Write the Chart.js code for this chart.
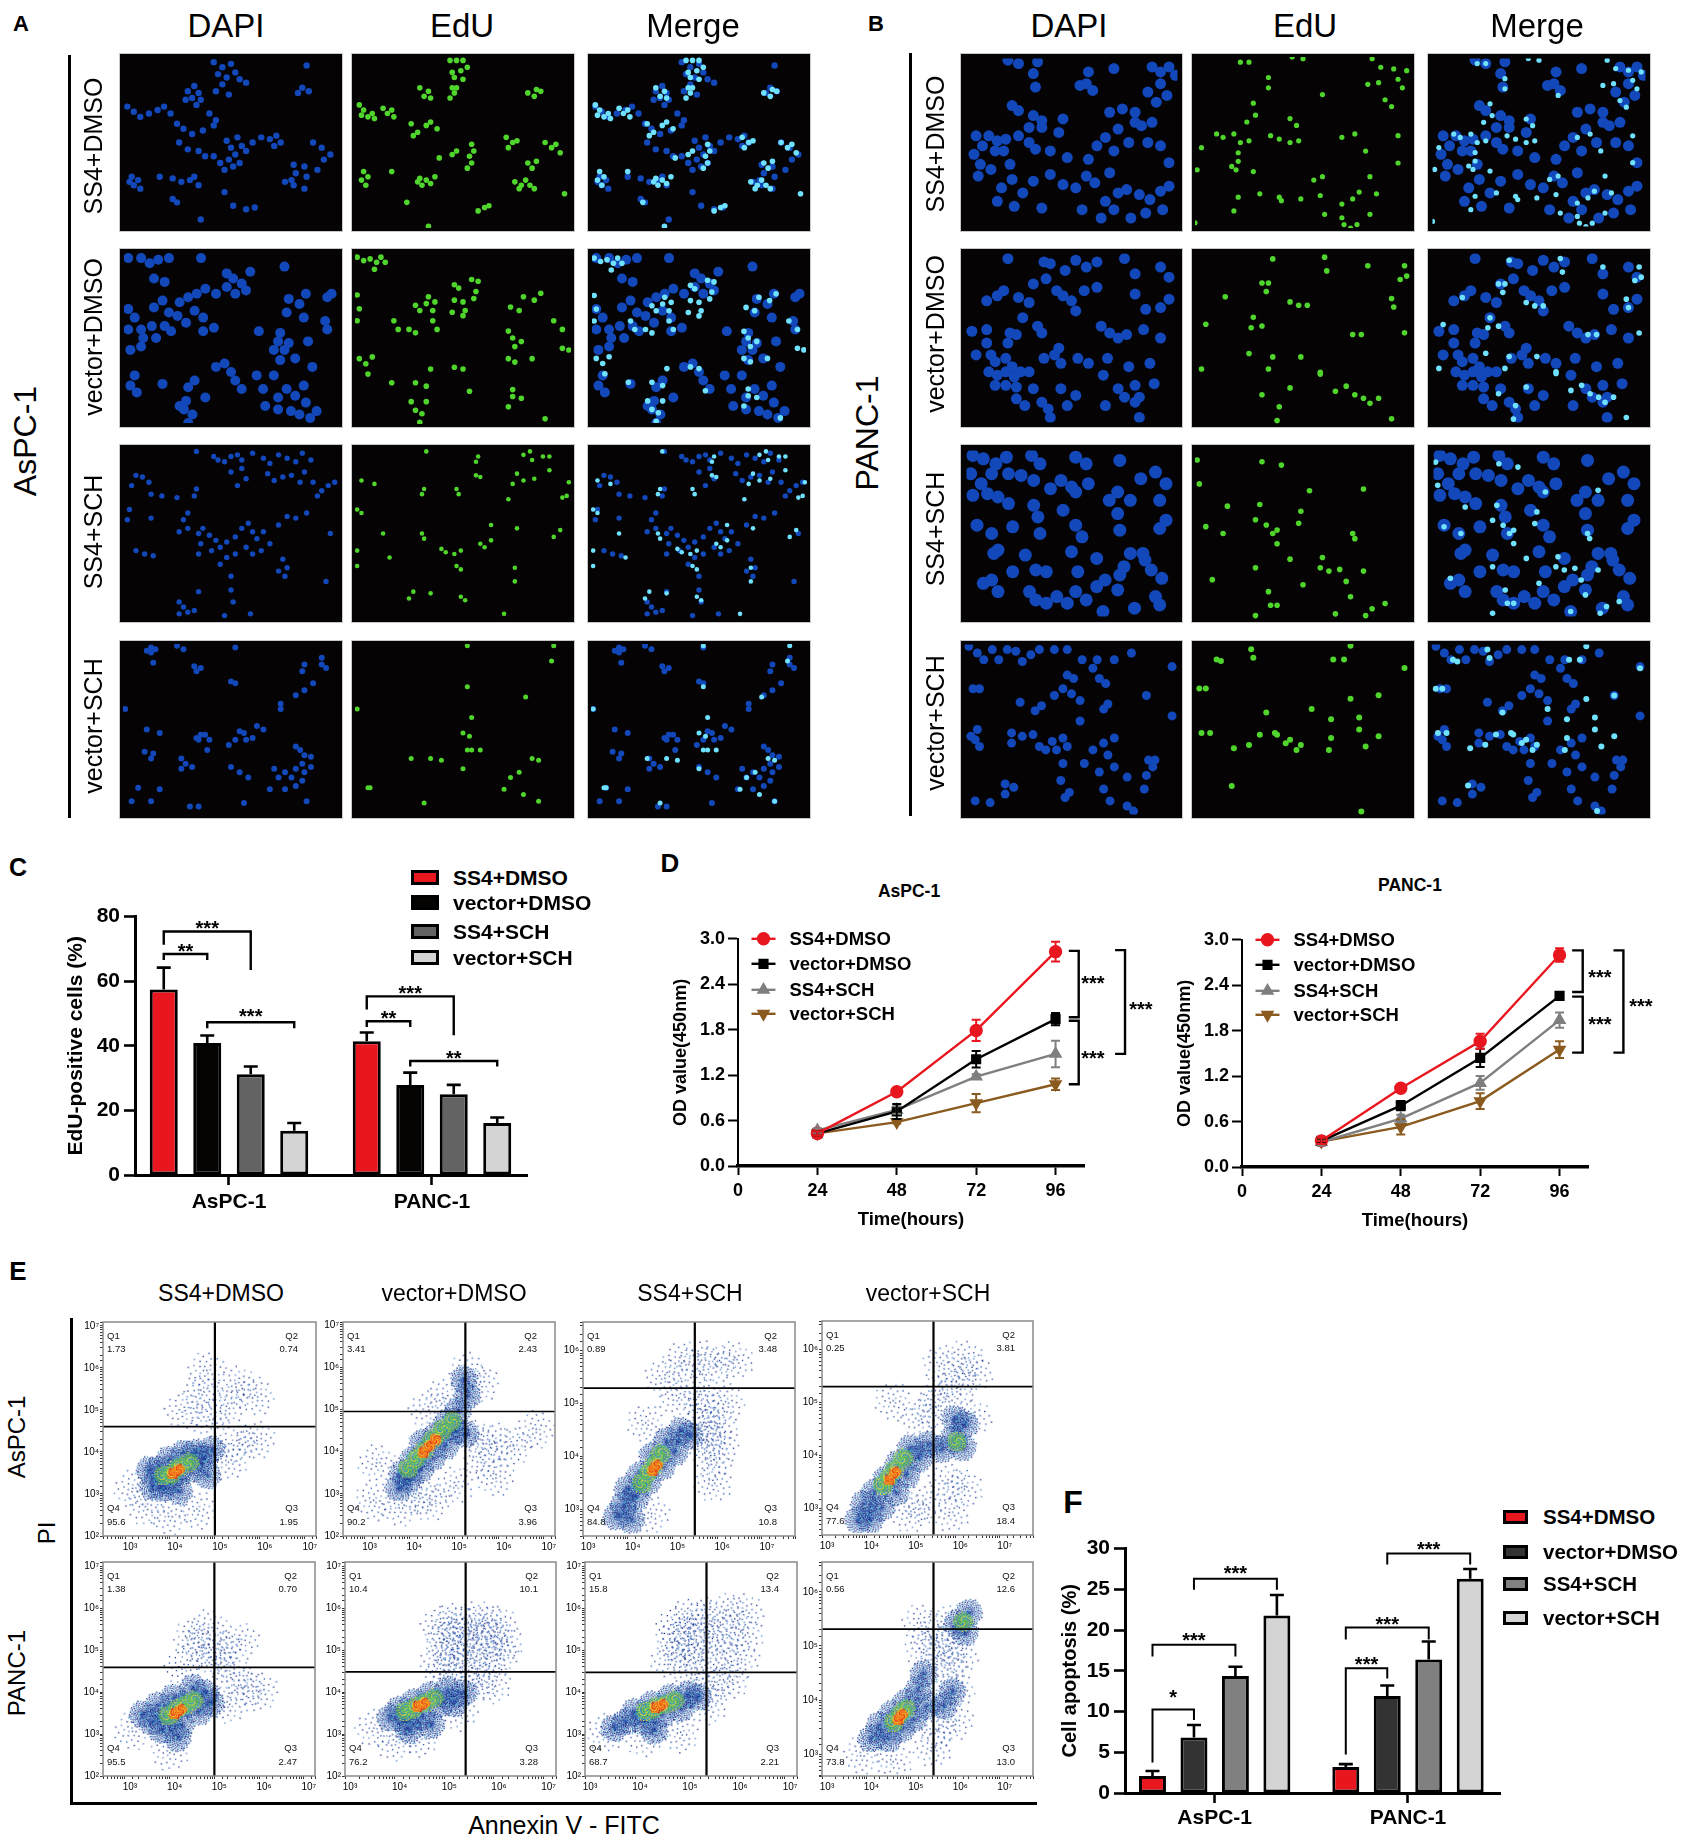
<!DOCTYPE html>
<html>
<head>
<meta charset="utf-8">
<title>Figure</title>
<script src="https://cdn.jsdelivr.net/npm/chart.js@4"></script>
<style>
html, body { margin: 0; background: #fff; }
#page { position: relative; width: 1687px; height: 1836px; overflow: hidden; font-family: "Liberation Sans", Arial, sans-serif; color: #000; }
#page canvas { position: absolute; }
.t { position: absolute; white-space: nowrap; transform: translate(-50%, -50%); line-height: 1; }
.r { transform: translate(-50%, -50%) rotate(-90deg); }
.l { transform: translate(0, -50%); }
.rule { position: absolute; background: #000; }
.sw { position: absolute; box-sizing: border-box; border: 3px solid #000; }
</style>
</head>
<body>
<div id="page"></div>
<script>
// ---------- data ----------
const groups = ['AsPC-1', 'PANC-1'];
const treatments = ['SS4+DMSO', 'vector+DMSO', 'SS4+SCH', 'vector+SCH'];

// panel C, EdU-positive cells (%)
const eduMeans = [[57.4, 41.4], [40.9, 27.9], [31.2, 25.0], [13.7, 16.1]];
const eduTops = [[64.2, 44.1], [43.2, 31.7], [33.6, 27.9], [16.1, 17.8]];
// group, bar a, bar b, line, left end, right end, label value, label
const eduBrackets = [
   [0, 0, 2, 75.4, 71.3, 63.5, 77.9, '***'],
   [0, 0, 1, 68.4, 66.6, 66.6, 70.7, '**'],
   [0, 1, 3, 47.3, 45.4, 45.4, 50.5, '***'],
   [1, 0, 2, 55.3, 51.2, 43.3, 57.6, '***'],
   [1, 0, 1, 47.6, 45.8, 45.8, 50.1, '**'],
   [1, 1, 3, 35.3, 33.6, 33.6, 37.7, '**']
];

// panel D, OD value
const hours = [24, 48, 72, 96];
const odAsp = [[0.43, 0.98, 1.79, 2.83], [0.43, 0.72, 1.41, 1.94], [0.47, 0.74, 1.18, 1.48], [0.43, 0.58, 0.83, 1.08]];
const odAspErr = [[0.03, 0.02, 0.14, 0.13], [0.03, 0.1, 0.11, 0.08], [0.03, 0.05, 0.03, 0.175], [0.03, 0.02, 0.12, 0.075]];
const odPanc = [[0.345, 1.04, 1.66, 2.8], [0.345, 0.81, 1.44, 2.26], [0.33, 0.64, 1.11, 1.94], [0.335, 0.53, 0.87, 1.55]];
const odPancErr = [[0.04, 0.05, 0.1, 0.09], [0.03, 0.06, 0.12, 0.05], [0.05, 0.05, 0.09, 0.1], [0.03, 0.1, 0.105, 0.11]];
// inner hour, outer hour, top, bottom, label hour, label value
const odAspBrackets = [[100, 103, 2.84, 1.965, 107.3, 2.47], [100, 103, 1.917, 1.08, 107.3, 1.48], [114, 117, 2.85, 1.48, 121.8, 2.13]];
const odPancBrackets = [[99.8, 103, 2.86, 2.31, 108.2, 2.57], [99.8, 103, 2.25, 1.51, 108.2, 1.94], [112.3, 115.3, 2.86, 1.51, 120.6, 2.18]];

// panel F, cell apoptosis (%)
const apoMeans = [[2.1, 3.2], [6.8, 11.9], [14.35, 16.4], [21.8, 26.3]];
const apoTops = [[2.7, 3.55], [8.35, 13.2], [15.5, 18.6], [24.3, 27.5]];
const apoBrackets = [
   [0, 0, 1, 10.25, 3.75, 8.96, 12.3, '*'],
   [0, 0, 2, 18.2, 16.75, 16.75, 19.26, '***'],
   [0, 1, 3, 26.3, 24.95, 24.95, 27.57, '***'],
   [1, 0, 1, 15.3, 4.72, 14.05, 16.43, '***'],
   [1, 0, 2, 20.3, 18.85, 18.85, 21.3, '***'],
   [1, 1, 3, 29.4, 28.06, 28.06, 30.5, '***']
];

// panel E, gate values and axis limits as powers of ten (rows: AsPC-1, PANC-1)
const flowQuadrants = [
   [['1.73', '0.74', '1.95', '95.6'], ['3.41', '2.43', '3.96', '90.2'], ['0.89', '3.48', '10.8', '84.8'], ['0.25', '3.81', '18.4', '77.6']],
   [['1.38', '0.70', '2.47', '95.5'], ['10.4', '10.1', '3.28', '76.2'], ['15.8', '13.4', '2.21', '68.7'], ['0.56', '12.6', '13.0', '73.8']]
];
const flowGates = [
   [[5.0, 4.6], [5.25, 4.95], [5.5, 5.29], [5.51, 5.3]],
   [[5.0, 4.59], [5.43, 4.48], [5.43, 4.47], [5.51, 5.31]]
];
const flowLimits = [
   [[2.51, 7.25, 2, 7.09], [2.52, 7.25, 2, 7.07], [3, 7.74, 2.5, 6.54], [3, 7.75, 2.5, 6.54]],
   [[2.51, 7.25, 2, 7.1], [3, 7.25, 2, 7.1], [3, 7.24, 2, 7.1], [3, 7.75, 2.6, 6.55]]
];

// event clouds, in powers of ten
const asp1Sparse = [[4.3,5.0],[4.7,5.4],[4.9,4.8],[5.3,5.1],[5.5,5.6],[5.9,5.3],[4.8,5.9],[5.5,4.2],[5.9,4.3],[5.3,3.8],[4.0,2.5],[3.5,2.7],[3.2,3.1],[4.6,2.6]];
const asp1Cloud = [[3.6,3.2],[3.75,3.6],[3.85,3.15],[4.0,3.3],[4.0,3.8],[4.2,3.5],[4.3,3.95],[4.45,3.6],[4.55,4.0],[4.75,3.85],[4.85,3.45],[4.95,4.05],[3.55,3.55],[4.2,3.05]];
const asp1Mid = [[3.85,3.45],[4.05,3.5],[4.2,3.65],[4.45,3.75]];
const asp1Core = [[4.05,3.5],[4.2,3.6]];
const asp2Sparse = [[4.4,5.0],[4.8,5.3],[5.3,5.9],[5.6,5.6],[5.5,4.3],[5.9,4.2],[6.3,4.1],[5.6,3.8],[5.9,3.4],[4.2,3.0],[3.8,2.7],[4.5,2.8],[3.3,3.7],[3.2,2.8],[6.8,4.5],[5.0,3.2]];
const asp2Cloud = [[3.75,3.15],[3.85,3.5],[4.0,3.35],[4.1,3.8],[4.25,3.55],[4.3,4.2],[4.5,3.85],[4.6,4.4],[4.8,4.15],[4.85,4.7],[5.05,4.5],[5.1,4.95],[5.3,5.3],[5.25,4.4],[5.2,5.7]];
const asp2Mid = [[3.95,3.6],[4.15,3.85],[4.35,4.05],[4.55,4.3],[4.75,4.5],[4.95,4.7]];
const asp2Core = [[4.3,4.0],[4.45,4.15],[4.6,4.3]];
const asp3Sparse = [[5.7,4.9],[6.0,4.6],[5.75,4.3],[6.1,4.2],[5.9,3.9],[6.2,5.0],[5.6,5.2],[5.1,5.1],[4.8,5.5],[5.2,5.8],[5.6,5.85],[6.0,5.75],[6.4,5.8],[4.4,4.6],[4.5,2.9],[5.9,3.5],[5.7,4.6]];
const asp3Cloud = [[3.9,3.1],[4.0,3.4],[4.2,3.25],[4.3,3.65],[4.45,3.5],[4.55,4.0],[4.75,3.8],[4.85,4.3],[5.05,4.1],[5.2,4.5],[5.4,4.4],[4.1,2.8],[3.75,2.85]];
const asp3Mid = [[4.3,3.5],[4.45,3.7],[4.6,3.85],[4.75,4.05]];
const asp3Core = [[4.55,3.75],[4.65,3.85]];
const asp4Sparse = [[5.2,4.7],[5.5,4.9],[5.7,5.2],[6.1,5.3],[6.4,4.7],[5.7,5.7],[6.2,5.8],[6.4,5.55],[5.8,3.5],[6.2,3.4],[5.3,3.1],[5.0,2.9],[5.9,2.9],[4.6,5.0]];
const asp4Cloud = [[3.8,2.8],[3.95,3.1],[4.1,2.8],[4.2,3.3],[4.35,3.0],[4.45,3.55],[4.65,3.3],[4.7,3.85],[4.9,3.65],[5.0,4.15],[5.2,3.95],[5.4,4.2],[5.7,4.1],[5.95,4.3],[6.15,4.15],[6.2,4.6],[6.0,4.7]];
const asp4Mid = [[4.35,3.45],[4.5,3.6],[4.65,3.75],[4.85,3.95],[6.05,4.25]];
const asp4Core = [[4.5,3.55],[4.65,3.7]];
const panc1Sparse = [[4.3,4.6],[4.7,5.1],[4.5,5.3],[5.2,5.0],[5.4,4.4],[5.7,4.1],[6.0,4.0],[5.3,3.7],[5.0,4.8],[4.0,2.6],[3.2,3.1],[5.6,5.2],[4.9,5.5]];
const panc1Cloud = [[3.6,3.3],[3.75,3.7],[3.85,3.1],[4.0,3.4],[4.1,3.85],[4.25,3.2],[4.35,3.7],[4.5,4.1],[4.65,3.55],[4.8,4.0],[4.95,3.75],[4.2,2.9],[3.4,3.45]];
const panc1Mid = [[3.95,3.45],[4.15,3.6],[4.35,3.7],[4.55,3.8]];
const panc1Core = [[4.1,3.5],[4.25,3.6]];
const panc2Sparse = [[4.9,5.6],[5.2,5.7],[5.5,5.7],[5.8,5.7],[6.1,5.6],[5.0,5.2],[5.3,5.3],[5.6,5.3],[5.9,5.3],[6.2,5.2],[4.9,4.8],[5.2,4.9],[5.5,4.85],[5.8,4.8],[6.1,4.85],[5.0,4.45],[5.4,4.4],[5.7,4.3],[6.0,4.2],[5.3,3.5],[3.6,3.1],[4.5,2.9],[4.0,2.8]];
const panc2Cloud = [[3.9,3.4],[4.1,3.6],[4.25,3.3],[4.4,3.75],[4.55,3.4],[4.7,3.9],[4.9,3.7],[5.05,4.05],[5.2,3.75],[5.4,4.0],[4.3,3.1],[4.75,3.2]];
const panc2Mid = [[4.2,3.55],[4.4,3.65],[4.6,3.75],[4.8,3.85]];
const panc2Core = [[4.45,3.68],[4.6,3.75]];
const panc3Sparse = [[4.8,5.6],[5.1,5.8],[5.4,5.8],[5.8,5.9],[6.2,5.9],[4.8,5.2],[5.1,5.3],[5.4,5.35],[5.8,5.4],[6.2,5.4],[4.7,4.8],[5.0,4.85],[5.3,4.8],[5.7,4.9],[6.1,4.75],[5.2,4.35],[5.55,4.2],[5.9,4.3],[5.5,3.7],[4.2,2.9],[3.4,3.0],[4.9,3.0]];
const panc3Cloud = [[3.8,3.3],[4.0,3.55],[4.2,3.3],[4.35,3.7],[4.55,3.45],[4.7,3.85],[4.9,3.6],[5.05,3.95],[5.25,3.9],[4.4,3.1],[3.6,3.15]];
const panc3Mid = [[4.2,3.55],[4.4,3.65],[4.6,3.72],[4.8,3.8]];
const panc3Core = [[4.4,3.65],[4.55,3.72]];
const panc4Sparse = [[5.85,4.6],[6.0,4.2],[5.6,5.0],[5.9,5.0],[6.1,4.8],[5.3,4.9],[5.2,5.4],[5.7,5.4],[5.6,3.5],[4.6,2.9],[3.9,3.0],[6.0,3.6],[5.5,3.1]];
const panc4Cloud = [[4.1,3.3],[4.3,3.55],[4.5,3.3],[4.6,3.75],[4.8,3.45],[4.9,3.95],[5.05,3.65],[5.15,4.2],[5.35,3.9],[5.3,4.5],[5.75,3.9],[5.95,4.15],[6.05,5.4],[6.3,5.6],[6.2,5.25]];
const panc4Mid = [[4.6,3.6],[4.75,3.75],[4.9,3.85],[6.2,5.45]];
const panc4Core = [[4.7,3.65],[4.8,3.75]];

// panels A and B, nuclei positions in percent of each field
const aDapi1 = [[42,3],[46,6],[50,4],[44,10],[48,12],[52,9],[46,16],[43,20],[49,22],[54,13],[57,15],[33,17],[30,20],[35,21],[32,24],[36,25],[29,25],[34,28],[85,5],[83,18],[81,21],[86,20],[2,29],[5,32],[8,35],[12,33],[16,31],[19,29],[22,33],[40,33],[43,37],[25,39],[28,42],[32,45],[37,43],[42,40],[26,50],[30,54],[35,55],[38,58],[48,49],[50,53],[53,47],[55,52],[52,57],[49,60],[45,62],[42,58],[57,55],[54,62],[51,64],[47,66],[60,50],[64,47],[68,48],[71,46],[73,50],[70,52],[88,50],[92,53],[79,63],[80,68],[84,64],[85,70],[78,72],[93,60],[96,57],[90,66],[4,70],[7,72],[5,75],[8,77],[3,73],[17,70],[23,71],[27,73],[31,72],[33,70],[35,75],[75,73],[79,75],[84,77],[23,83],[25,85],[47,79],[51,87],[57,89],[61,88],[36,95]];
const aEdu1 = [[44,2],[47,2],[50,2],[45,9],[49,8],[52,6],[46,12],[50,13],[47,18],[30,18],[34,20],[32,23],[35,24],[45,18],[46,21],[44,24],[80,21],[84,19],[86,20],[83,23],[2,28],[4,31],[6,35],[3,34],[8,33],[9,36],[13,30],[15,33],[17,31],[18,35],[26,39],[29,44],[33,40],[35,38],[27,46],[38,42],[47,55],[45,57],[54,51],[55,55],[53,58],[54,62],[52,65],[39,59],[70,47],[73,50],[71,53],[75,49],[88,50],[91,53],[95,56],[93,51],[80,62],[82,65],[84,61],[4,67],[6,70],[3,72],[5,75],[17,67],[30,71],[33,72],[35,74],[31,75],[29,73],[37,70],[74,73],[77,75],[79,72],[81,75],[76,77],[83,77],[97,80],[24,85],[57,90],[60,88],[62,87],[34,99]];
const aDapi2 = [[2,3],[8,3],[12,6],[16,4],[14,15],[21,3],[36,3],[19,17],[48,12],[51,15],[55,18],[48,20],[52,24],[57,22],[59,11],[43,24],[34,24],[38,21],[30,26],[26,29],[18,28],[14,32],[21,35],[25,37],[33,34],[37,38],[29,41],[2,33],[5,38],[2,45],[8,45],[13,43],[9,50],[3,57],[8,55],[15,50],[19,43],[22,46],[37,46],[42,44],[75,8],[77,27],[82,30],[85,24],[76,35],[84,38],[95,26],[97,24],[94,40],[95,45],[63,46],[73,47],[72,52],[75,57],[77,53],[80,62],[73,63],[70,57],[86,52],[5,72],[3,78],[6,82],[18,77],[30,79],[33,75],[29,87],[26,90],[38,85],[43,67],[47,65],[50,70],[52,75],[55,80],[62,72],[65,80],[70,72],[72,85],[76,80],[80,84],[84,78],[66,90],[72,92],[78,93],[85,88],[82,95],[87,97],[90,93],[28,92],[32,95],[30,100],[88,67]];
const aEdu2 = [[1,3],[4,5],[7,4],[10,6],[12,3],[14,6],[9,10],[34,26],[33,30],[30,34],[28,31],[36,34],[37,29],[46,19],[48,21],[46,28],[50,29],[54,16],[57,17],[56,23],[55,27],[1,25],[2,33],[1,40],[18,40],[20,45],[25,45],[28,47],[36,40],[38,45],[45,35],[50,37],[51,34],[78,26],[83,28],[86,24],[72,32],[76,34],[92,40],[96,45],[71,46],[73,50],[74,55],[77,52],[71,62],[74,64],[82,62],[2,62],[5,65],[8,61],[6,71],[17,76],[35,68],[46,67],[50,68],[28,76],[33,78],[53,81],[73,80],[71,90],[73,84],[77,85],[26,87],[28,92],[31,94],[33,87],[30,99],[88,97],[96,56],[99,57]];
const aDapi3 = [[34,2],[42,5],[44,7],[47,8],[50,5],[53,4],[55,7],[60,3],[65,6],[68,9],[72,4],[76,6],[80,8],[83,3],[87,7],[50,14],[55,12],[57,18],[53,22],[67,15],[70,19],[74,17],[78,16],[82,20],[84,14],[88,20],[92,25],[95,22],[98,20],[90,28],[6,16],[9,17],[12,20],[13,27],[4,22],[18,28],[25,29],[34,24],[33,28],[3,36],[2,42],[13,41],[30,38],[28,42],[76,40],[80,41],[85,38],[72,45],[26,49],[30,47],[35,50],[37,47],[40,51],[43,54],[45,58],[48,55],[52,52],[55,47],[58,44],[60,49],[62,53],[65,49],[68,56],[64,60],[60,62],[57,58],[52,62],[48,64],[45,68],[36,56],[35,62],[41,60],[96,50],[6,60],[10,62],[14,63],[74,65],[76,70],[72,72],[75,75],[50,75],[26,90],[28,93],[30,96],[33,95],[26,97],[35,84],[50,83],[51,90],[47,98],[59,97],[94,78]];
const aEdu3 = [[33,2],[57,5],[56,8],[56,16],[58,17],[3,19],[9,21],[32,24],[31,27],[47,24],[48,27],[78,4],[81,2],[82,7],[87,5],[90,5],[75,15],[73,21],[78,19],[83,18],[90,13],[99,20],[98,28],[96,29],[71,30],[1,36],[3,38],[63,45],[75,47],[95,48],[92,52],[13,50],[31,50],[32,53],[1,60],[16,64],[40,59],[42,61],[49,60],[46,62],[58,56],[60,58],[63,54],[47,69],[49,71],[1,69],[27,84],[35,85],[25,88],[49,87],[51,89],[74,70],[74,78],[69,97]];
const aDapi4 = [[13,2],[15,3],[11,4],[13,5],[25,1],[28,3],[52,2],[14,11],[33,13],[34,16],[36,14],[50,22],[52,23],[84,12],[83,16],[92,8],[92,12],[94,14],[88,23],[84,27],[80,30],[73,35],[1,38],[73,38],[11,50],[17,52],[35,56],[34,55],[38,53],[40,56],[36,53],[49,59],[52,56],[56,52],[60,55],[62,48],[65,50],[54,51],[57,56],[80,60],[82,62],[84,65],[87,66],[83,70],[80,73],[84,75],[87,72],[10,63],[14,64],[13,67],[27,67],[29,70],[27,73],[32,72],[39,62],[50,72],[54,75],[58,78],[70,73],[72,78],[75,75],[78,78],[80,83],[83,80],[75,85],[68,85],[17,85],[7,84],[13,92],[4,92],[31,95],[35,95],[56,93],[85,92]];
const aEdu4 = [[52,1],[92,1],[91,10],[52,25],[79,31],[1,38],[54,43],[50,52],[53,54],[54,62],[52,62],[58,62],[26,67],[35,67],[40,68],[50,73],[82,67],[85,68],[72,78],[76,75],[69,85],[32,93],[7,84],[78,88],[85,92],[6,84]];
const bDapi1 = [[20,1],[25,3],[34,2],[32,9],[33,17],[58,8],[57,15],[54,16],[60,19],[70,6],[88,5],[92,8],[96,5],[99,10],[92,15],[86,20],[95,22],[90,26],[74,30],[80,32],[80,38],[22,28],[25,31],[32,34],[36,37],[30,41],[36,41],[44,44],[46,36],[5,46],[11,46],[15,49],[19,48],[8,52],[14,55],[18,55],[25,46],[30,50],[33,54],[40,55],[48,59],[4,57],[7,63],[12,66],[6,70],[21,63],[22,72],[17,77],[27,80],[32,73],[40,69],[46,75],[52,77],[57,70],[61,74],[68,68],[72,80],[76,78],[82,81],[87,84],[92,79],[96,76],[66,85],[70,90],[64,95],[55,90],[78,95],[85,92],[93,90],[36,89],[23,88],[15,85],[58,60],[70,55],[77,50],[86,50],[92,52],[62,52],[66,47],[83,40],[96,62],[68,32],[72,42],[88,38]];
const bEdu1 = [[21,3],[25,3],[45,0],[50,1],[82,1],[86,6],[92,7],[98,8],[94,13],[96,18],[34,12],[34,18],[80,16],[85,15],[59,22],[88,25],[91,29],[27,27],[28,34],[44,36],[47,40],[24,38],[10,45],[13,47],[18,45],[21,50],[25,49],[35,46],[39,48],[44,50],[48,49],[68,47],[74,45],[94,46],[3,53],[20,56],[20,61],[17,64],[19,66],[1,66],[27,67],[79,55],[94,62],[81,70],[55,72],[59,70],[20,82],[30,80],[40,84],[39,82],[49,83],[58,81],[68,86],[73,83],[76,79],[84,80],[18,90],[60,92],[68,94],[81,92],[0,97],[69,98],[75,98],[72,100]];
const bDapi2 = [[20,3],[37,5],[40,6],[47,10],[52,4],[57,8],[62,5],[75,3],[80,12],[92,8],[96,14],[38,15],[32,18],[18,22],[15,25],[10,28],[25,26],[30,29],[43,22],[46,25],[50,28],[52,34],[56,22],[62,20],[80,24],[85,33],[92,32],[96,27],[27,38],[3,46],[10,45],[21,47],[20,53],[24,48],[34,43],[36,47],[64,43],[68,47],[72,50],[76,48],[84,45],[92,50],[10,53],[5,60],[12,60],[14,64],[19,62],[22,67],[37,62],[42,60],[44,56],[11,70],[15,72],[19,70],[23,73],[26,70],[14,78],[19,78],[24,79],[30,70],[32,80],[45,65],[53,62],[58,65],[65,72],[67,62],[77,67],[87,65],[72,80],[75,85],[80,78],[82,85],[89,77],[24,86],[28,90],[36,88],[39,92],[45,80],[52,84],[48,90],[66,90],[80,88],[82,97],[40,97]];
const bEdu2 = [[36,4],[60,3],[61,11],[80,8],[95,16],[97,8],[98,14],[31,18],[34,18],[14,26],[44,29],[33,23],[48,31],[52,31],[91,27],[92,32],[27,38],[5,42],[26,44],[31,43],[73,48],[77,48],[97,47],[25,59],[36,61],[49,61],[3,68],[34,68],[58,71],[44,79],[65,81],[70,78],[74,83],[78,85],[81,88],[85,85],[31,83],[39,90],[38,98],[91,97],[58,70]];
const bDapi3 = [[3,3],[8,5],[14,8],[19,4],[31,3],[35,8],[52,4],[57,8],[73,6],[2,14],[7,20],[12,14],[20,14],[26,15],[32,18],[45,18],[50,22],[40,23],[52,25],[58,20],[72,25],[78,30],[83,17],[90,13],[95,20],[3,27],[10,26],[15,28],[20,32],[32,33],[34,40],[46,36],[52,45],[68,30],[72,38],[73,48],[92,30],[5,45],[12,50],[22,46],[35,50],[55,52],[92,47],[95,42],[13,62],[12,78],[15,60],[28,63],[22,73],[33,72],[38,73],[50,61],[53,73],[62,65],[78,62],[73,75],[84,62],[85,66],[88,72],[75,70],[66,78],[72,84],[90,88],[93,77],[30,85],[33,90],[38,92],[43,88],[48,92],[57,90],[52,85],[62,82],[92,93],[80,95],[8,80],[15,85],[65,97]];
const bEdu3 = [[1,7],[31,8],[40,10],[2,21],[53,25],[78,24],[15,34],[30,33],[28,42],[49,37],[5,46],[13,50],[33,45],[36,50],[38,48],[48,44],[38,56],[73,50],[74,53],[44,65],[59,64],[28,70],[58,70],[62,72],[67,71],[78,72],[8,77],[50,80],[34,84],[38,92],[35,92],[72,87],[88,91],[70,78],[82,94],[65,97],[79,98],[28,98]];
const bDapi4 = [[2,1],[6,5],[9,9],[13,3],[16,9],[20,3],[24,4],[27,10],[31,6],[35,3],[42,3],[48,3],[55,9],[62,9],[70,9],[78,5],[97,13],[48,18],[51,20],[46,26],[50,29],[54,33],[60,14],[63,20],[66,23],[4,26],[7,26],[36,36],[33,39],[26,34],[42,30],[54,45],[65,38],[67,35],[85,30],[97,42],[6,50],[5,56],[7,60],[3,54],[22,52],[22,58],[27,54],[32,53],[35,60],[41,57],[46,55],[43,62],[38,62],[48,60],[60,62],[65,58],[70,55],[67,65],[70,72],[56,70],[46,70],[63,75],[19,82],[23,84],[19,88],[45,80],[49,87],[47,90],[65,85],[68,92],[86,68],[89,68],[88,72],[85,77],[76,78],[5,92],[12,93],[76,95],[79,98],[84,85]];
const bEdu4 = [[26,3],[27,8],[12,10],[10,9],[64,9],[69,9],[72,1],[97,14],[2,26],[5,26],[33,40],[49,59],[54,38],[72,32],[85,30],[63,44],[76,43],[76,50],[37,52],[38,53],[30,53],[25,59],[42,58],[44,56],[63,55],[3,52],[7,52],[85,54],[47,62],[18,61],[79,60],[17,83],[77,98],[62,62]];

// ---------- page helpers ----------
Chart.defaults.font.family = '"Liberation Sans", Arial, sans-serif';
Chart.defaults.color = '#000';
Chart.defaults.animation = false;
Chart.defaults.responsive = false;
Chart.defaults.maintainAspectRatio = false;
Chart.defaults.plugins.legend.display = false;
Chart.defaults.plugins.tooltip.enabled = false;

const page = document.getElementById('page');

function put(text, x, y, size, bold, kind) {
   const el = document.createElement('div');
   el.className = kind ? 't ' + kind : 't';
   el.textContent = text;
   el.style.left = x + 'px';
   el.style.top = y + 'px';
   el.style.fontSize = size + 'px';
   if (bold) el.style.fontWeight = 'bold';
   page.appendChild(el);
}

function rule(x, y, w, h) {
   const el = document.createElement('div');
   el.className = 'rule';
   el.style.cssText += `left:${x}px;top:${y}px;width:${w}px;height:${h}px`;
   page.appendChild(el);
}

function swatch(x, y, w, h, color) {
   const el = document.createElement('div');
   el.className = 'sw';
   el.style.cssText += `left:${x}px;top:${y - h / 2}px;width:${w}px;height:${h}px;background:${color}`;
   page.appendChild(el);
}

function chartAt(x, y, w, h, config) {
   const c = document.createElement('canvas');
   c.width = w;
   c.height = h;
   c.style.left = x + 'px';
   c.style.top = y + 'px';
   page.appendChild(c);
   return { canvas: c, chart: new Chart(c.getContext('2d'), config) };
}

function drawStars(ctx, text, x, y, size) {
   ctx.font = `bold ${size}px "Liberation Sans"`;
   ctx.textAlign = 'center';
   ctx.textBaseline = 'alphabetic';
   ctx.fillStyle = '#000';
   ctx.fillText(text, x, y + size * 0.57);
}

// ---------- bar charts (C, F) ----------
function barErrors(tops, capHalf) {
   return {
      id: 'barErrors',
      afterDatasetsDraw(chart) {
         const ctx = chart.ctx, sy = chart.scales.y;
         ctx.save();
         ctx.strokeStyle = '#000';
         ctx.lineWidth = 2.6;
         tops.forEach((row, i) => {
            const bars = chart.getDatasetMeta(i).data;
            row.forEach((top, g) => {
               const x = bars[g].x, y = sy.getPixelForValue(top);
               ctx.beginPath();
               ctx.moveTo(x, bars[g].y);
               ctx.lineTo(x, y);
               ctx.moveTo(x - capHalf, y);
               ctx.lineTo(x + capHalf, y);
               ctx.stroke();
            });
         });
         ctx.restore();
      }
   };
}

function barBrackets(list, width) {
   return {
      id: 'barBrackets',
      afterDraw(chart) {
         const ctx = chart.ctx, sy = chart.scales.y;
         ctx.save();
         ctx.strokeStyle = '#000';
         ctx.lineWidth = width;
         list.forEach(([g, a, b, top, endA, endB, labelY, label]) => {
            const xa = chart.getDatasetMeta(a).data[g].x;
            const xb = chart.getDatasetMeta(b).data[g].x;
            ctx.beginPath();
            ctx.moveTo(xa, sy.getPixelForValue(endA));
            ctx.lineTo(xa, sy.getPixelForValue(top));
            ctx.lineTo(xb, sy.getPixelForValue(top));
            ctx.lineTo(xb, sy.getPixelForValue(endB));
            ctx.stroke();
            drawStars(ctx, label, (xa + xb) / 2, sy.getPixelForValue(labelY), 20);
         });
         ctx.restore();
      }
   };
}

function barChart(o) {
   return chartAt(o.x, o.y, o.w, o.h, {
      type: 'bar',
      data: {
         datasets: treatments.map((name, i) => ({
            label: name,
            data: o.means[i].map((v, g) => ({ x: g + 1, y: v })),
            backgroundColor: o.colors[i],
            borderColor: '#000',
            borderWidth: 3,
            borderSkipped: false,
            categoryPercentage: o.catPct,
            barPercentage: o.barPct
         }))
      },
      options: {
         layout: { padding: { top: o.padTop, right: o.padRight, left: 0, bottom: 0 } },
         scales: {
            x: {
               type: 'linear', min: o.xMin, max: o.xMax, offset: false,
               afterFit: s => { s.height = o.bottom; },
               afterBuildTicks: s => { s.ticks = [{ value: 1 }, { value: 2 }]; },
               grid: { offset: false, drawOnChartArea: false, tickLength: 10, tickWidth: 2.6, tickColor: '#000' },
               border: { color: '#000', width: 3 },
               ticks: { callback: v => groups[v - 1], font: { size: 21, weight: 'bold' }, padding: o.tickPad, maxRotation: 0, autoSkip: false }
            },
            y: {
               min: 0, max: o.yMax,
               afterFit: s => { s.width = o.left; },
               grid: { drawOnChartArea: false, tickLength: 11, tickWidth: 2.6, tickColor: '#000' },
               border: { color: '#000', width: 3 },
               ticks: { stepSize: o.yStep, font: { size: 21, weight: 'bold' }, padding: 4 },
               title: { display: true, text: o.yTitle, font: { size: o.titleSize, weight: 'bold' }, padding: { top: o.titlePad, bottom: 0 } }
            }
         }
      },
      plugins: [barErrors(o.tops, 7), barBrackets(o.brackets, o.bracketWidth)]
   });
}

barChart({
   x: 60, y: 900, w: 480, h: 330, left: 75, bottom: 55, padTop: 15, padRight: 13,
   means: eduMeans, tops: eduTops, brackets: eduBrackets, bracketWidth: 2.4,
   colors: ['#e8171f', '#060303', '#636363', '#d4d4d4'],
   catPct: 0.857, barPct: 0.644, xMin: 0.537, xMax: 2.468, yMax: 80, yStep: 20, tickPad: 5,
   yTitle: 'EdU-positive cells (%)', titleSize: 21, titlePad: 4
});

barChart({
   x: 1050, y: 1532, w: 460, h: 304, left: 75, bottom: 43, padTop: 13.7, padRight: 10,
   means: apoMeans, tops: apoTops, brackets: apoBrackets, bracketWidth: 2,
   colors: ['#e8171f', '#333333', '#808080', '#d4d4d4'],
   catPct: 0.858, barPct: 0.65, xMin: 0.536, xMax: 2.476, yMax: 30, yStep: 5, tickPad: 3,
   yTitle: 'Cell apoptosis (%)', titleSize: 20, titlePad: 8
});

const legendC = [['#e8171f', 877], ['#060303', 902], ['#636363', 931], ['#d4d4d4', 957]];
legendC.forEach(([col, y], i) => {
   swatch(411, y, 28, 15, col);
   put(treatments[i], 453, y, 21, true, 'l');
});
const legendF = [['#e8171f', 1517], ['#333333', 1552], ['#808080', 1584], ['#d4d4d4', 1618]];
legendF.forEach(([col, y], i) => {
   swatch(1503, y, 25, 14, col);
   put(treatments[i], 1543, y, 20.5, true, 'l');
});

// ---------- line charts (D) ----------
const odColors = ['#e8171f', '#000000', '#7f7f7f', '#8a5a1e'];
const odStyles = ['circle', 'rect', 'triangle', 'triangle'];
const odRotation = [0, 0, 0, 180];

function lineErrors(errs) {
   return {
      id: 'lineErrors',
      afterDatasetsDraw(chart) {
         const ctx = chart.ctx, sy = chart.scales.y;
         ctx.save();
         ctx.lineWidth = 2;
         for (let i = errs.length - 1; i >= 0; i--) {
            const meta = chart.getDatasetMeta(i);
            ctx.strokeStyle = odColors[i];
            errs[i].forEach((e, j) => {
               const p = meta.data[j], v = chart.data.datasets[i].data[j].y;
               const y0 = sy.getPixelForValue(v - e), y1 = sy.getPixelForValue(v + e);
               ctx.beginPath();
               ctx.moveTo(p.x, y0); ctx.lineTo(p.x, y1);
               ctx.moveTo(p.x - 4.5, y0); ctx.lineTo(p.x + 4.5, y0);
               ctx.moveTo(p.x - 4.5, y1); ctx.lineTo(p.x + 4.5, y1);
               ctx.stroke();
            });
         }
         ctx.restore();
      }
   };
}

function sideBrackets(list) {
   return {
      id: 'sideBrackets',
      afterDraw(chart) {
         const ctx = chart.ctx, sx = chart.scales.x, sy = chart.scales.y;
         ctx.save();
         ctx.strokeStyle = '#000';
         ctx.lineWidth = 2.4;
         list.forEach(([inner, outer, top, bottom, lx, ly]) => {
            ctx.beginPath();
            ctx.moveTo(sx.getPixelForValue(inner), sy.getPixelForValue(top));
            ctx.lineTo(sx.getPixelForValue(outer), sy.getPixelForValue(top));
            ctx.lineTo(sx.getPixelForValue(outer), sy.getPixelForValue(bottom));
            ctx.lineTo(sx.getPixelForValue(inner), sy.getPixelForValue(bottom));
            ctx.stroke();
            drawStars(ctx, '***', sx.getPixelForValue(lx), sy.getPixelForValue(ly), 20);
         });
         ctx.restore();
      }
   };
}

const odLegendRows = [0, 25, 51, 75];
const odLegend = {
   id: 'odLegend',
   afterDraw(chart) {
      const ctx = chart.ctx, a = chart.chartArea;
      ctx.save();
      treatments.forEach((name, i) => {
         const y = a.top + odLegendRows[i], x0 = a.left + 13.5;
         ctx.strokeStyle = odColors[i];
         ctx.fillStyle = odColors[i];
         ctx.lineWidth = 2.4;
         ctx.beginPath();
         ctx.moveTo(x0, y);
         ctx.lineTo(x0 + 24, y);
         ctx.stroke();
         Chart.helpers.drawPoint(ctx, { pointStyle: odStyles[i], radius: 5.5, rotation: odRotation[i], borderWidth: 1 }, x0 + 12, y);
         ctx.fillStyle = '#000';
         ctx.font = 'bold 18.5px "Liberation Sans"';
         ctx.textAlign = 'left';
         ctx.textBaseline = 'middle';
         ctx.fillText(name, x0 + 38, y + 1);
      });
      ctx.restore();
   }
};

function odChart(x, y, w, padRight, series, errs, brackets) {
   return chartAt(x, y, w, 315, {
      type: 'scatter',
      data: {
         datasets: treatments.map((name, i) => ({
            label: name,
            data: hours.map((h, j) => ({ x: h, y: series[i][j] })),
            showLine: true,
            borderColor: odColors[i],
            backgroundColor: odColors[i],
            borderWidth: 2.4,
            pointStyle: odStyles[i],
            pointRotation: odRotation[i],
            pointRadius: 5.5
         }))
      },
      options: {
         layout: { padding: { top: 12, right: padRight, left: 0, bottom: 0 } },
         scales: {
            x: {
               type: 'linear', min: 0, max: 104.6,
               afterFit: s => { s.height = 74; },
               afterBuildTicks: s => { s.ticks = [0].concat(hours).map(v => ({ value: v })); },
               grid: { drawOnChartArea: false, tickLength: 9, tickWidth: 2, tickColor: '#000' },
               border: { color: '#000', width: 3.5 },
               ticks: { font: { size: 18, weight: 'bold' }, padding: 5, maxRotation: 0, autoSkip: false },
               title: { display: true, text: 'Time(hours)', font: { size: 18.5, weight: 'bold' }, padding: { top: 0, bottom: 9 } }
            },
            y: {
               min: 0, max: 3,
               afterFit: s => { s.width = 79; },
               grid: { drawOnChartArea: false, tickLength: 10, tickWidth: 2, tickColor: '#000' },
               border: { color: '#000', width: 2 },
               ticks: { stepSize: 0.6, font: { size: 18, weight: 'bold' }, padding: 3, callback: v => v.toFixed(1) },
               title: { display: true, text: 'OD value(450nm)', font: { size: 18, weight: 'bold' }, padding: { top: 11, bottom: 0 } }
            }
         }
      },
      plugins: [lineErrors(errs), sideBrackets(brackets), odLegend]
   });
}

odChart(659, 925, 510, 85, odAsp, odAspErr, odAspBrackets);
odChart(1163, 926, 524, 99, odPanc, odPancErr, odPancBrackets);
put(groups[0], 909, 892, 17.5, true);
put(groups[1], 1410, 886, 17.5, true);

// ---------- flow dot plots (E) ----------
// stipple stamp, so one read-off point paints a patch of events
function stamp(r, n, colors, dot) {
   const c = document.createElement('canvas');
   c.width = c.height = r * 2;
   const g = c.getContext('2d');
   for (let i = 0; i < n; i++) {
      const a = i * 2.39996, d = r * Math.pow((i + 0.5) / n, 0.65);
      g.fillStyle = colors[i % colors.length];
      g.fillRect(r + d * Math.cos(a), r + d * Math.sin(a), dot, dot);
   }
   return c;
}
const sparseStamp = stamp(20, 40, ['#13338f', '#1f52b4', '#0f2a85', '#4a7cc4'], 1.3);
const cloudStamp = stamp(14, 130, ['#0f2a90', '#0b2480', '#1a4db0', '#2f97c2', '#0d2888'], 1.4);
const midStamp = stamp(10, 110, ['#37b56b', '#8ccf3f', '#2f9fc0', '#d7d93a'], 1.5);
const coreStamp = stamp(6, 70, ['#f2541b', '#f7a21e', '#e8201a', '#f6d62a'], 1.6);

const superscripts = { 2: '\u00b2', 3: '\u00b3', 4: '\u2074', 5: '\u2075', 6: '\u2076', 7: '\u2077' };
function decadeLabel(v) {
   const e = Math.log10(v);
   if (Math.abs(e - Math.round(e)) > 1e-6 || !superscripts[Math.round(e)]) return '';
   return '10' + superscripts[Math.round(e)];
}
const pow10 = list => list.map(([x, y]) => ({ x: Math.pow(10, x), y: Math.pow(10, y) }));

function cloudSet(points, img) {
   return {
      data: pow10(points), pointStyle: img, pointRadius: 1,
      pointRotation: c => c.dataIndex * 47
   };
}

function quadrantText(values) {
   return {
      id: 'quadrantText',
      afterDraw(chart) {
         const ctx = chart.ctx, a = chart.chartArea;
         ctx.save();
         ctx.strokeStyle = '#8a8a8a';
         ctx.lineWidth = 1.5;
         ctx.strokeRect(a.left, a.top, a.right - a.left, a.bottom - a.top);
         ctx.fillStyle = '#111';
         ctx.font = '9.5px "Liberation Sans"';
         ctx.textBaseline = 'middle';
         ctx.textAlign = 'left';
         ctx.fillText('Q1', a.left + 4, a.top + 14);
         ctx.fillText(values[0], a.left + 4, a.top + 27.5);
         ctx.fillText('Q4', a.left + 4, a.top + 186);
         ctx.fillText(values[3], a.left + 4, a.top + 200);
         ctx.textAlign = 'right';
         ctx.fillText('Q2', a.right - 18, a.top + 14);
         ctx.fillText(values[1], a.right - 18, a.top + 27.5);
         ctx.fillText('Q3', a.right - 18, a.top + 186);
         ctx.fillText(values[2], a.right - 18, a.top + 200);
         ctx.restore();
      }
   };
}

function flowPlot(box, lim, gate, q, sparse, cloud, mid, core) {
   const [x0, x1, y0, y1] = lim.map(v => Math.pow(10, v));
   const gx = Math.pow(10, gate[0]), gy = Math.pow(10, gate[1]);
   const left = 24, bottom = 20, pad = 8;
   const logAxis = (min, max, extra) => Object.assign({
      type: 'logarithmic', min, max,
      grid: { drawOnChartArea: false, tickLength: 3, tickWidth: 1, tickColor: '#333' },
      border: { display: false }
   }, extra);
   chartAt(box[0] - left, box[1] - pad, box[2] + left + pad, box[3] + pad + bottom, {
      type: 'scatter',
      data: {
         datasets: [
            { data: [{ x: gx, y: y0 }, { x: gx, y: y1 }], showLine: true, pointRadius: 0, borderColor: '#000', borderWidth: 2.2 },
            { data: [{ x: x0, y: gy }, { x: x1, y: gy }], showLine: true, pointRadius: 0, borderColor: '#000', borderWidth: 1.7 },
            cloudSet(core, coreStamp),
            cloudSet(mid, midStamp),
            cloudSet(cloud, cloudStamp),
            cloudSet(sparse, sparseStamp)
         ]
      },
      options: {
         layout: { padding: { top: pad, right: pad, left: 0, bottom: 0 } },
         scales: {
            x: logAxis(x0, x1, {
               afterFit: s => { s.height = bottom; },
               ticks: { callback: decadeLabel, autoSkip: false, maxRotation: 0, font: { size: 10 }, padding: 2, labelOffset: 5 }
            }),
            y: logAxis(y0, y1, {
               afterFit: s => { s.width = left; },
               ticks: { callback: decadeLabel, autoSkip: false, font: { size: 10 }, padding: 1 }
            })
         }
      },
      plugins: [quadrantText(q)]
   });
}

const flowBoxes = [
   [[103, 1322, 213, 214], [343, 1322, 212, 214], [583, 1322, 212, 214], [822, 1321, 211, 214]],
   [[103, 1562, 212, 214], [345, 1562, 211, 214], [585, 1562, 212, 214], [822, 1562, 211, 214]]
];
const flowSparse = [[asp1Sparse, asp2Sparse, asp3Sparse, asp4Sparse], [panc1Sparse, panc2Sparse, panc3Sparse, panc4Sparse]];
const flowCloud = [[asp1Cloud, asp2Cloud, asp3Cloud, asp4Cloud], [panc1Cloud, panc2Cloud, panc3Cloud, panc4Cloud]];
const flowMid = [[asp1Mid, asp2Mid, asp3Mid, asp4Mid], [panc1Mid, panc2Mid, panc3Mid, panc4Mid]];
const flowCore = [[asp1Core, asp2Core, asp3Core, asp4Core], [panc1Core, panc2Core, panc3Core, panc4Core]];
for (let r = 0; r < 2; r++) {
   for (let c = 0; c < 4; c++) {
      flowPlot(flowBoxes[r][c], flowLimits[r][c], flowGates[r][c], flowQuadrants[r][c],
         flowSparse[r][c], flowCloud[r][c], flowMid[r][c], flowCore[r][c]);
   }
}
[221, 454, 690, 928].forEach((x, i) => put(treatments[i], x, 1293, 23));
put('AsPC-1', 17, 1437, 24, false, 'r');
put('PANC-1', 17, 1673, 24, false, 'r');
put('PI', 47, 1533, 24, false, 'r');
put('Annexin V - FITC', 564, 1825, 25);
rule(70, 1318, 3, 487);
rule(70, 1802, 967, 3);

// ---------- microscopy fields (A, B) ----------
const dapiBlue = '#1248ba';
const eduGreen = '#4fd52c';
const mergeCyan = '#6fe2ff';

function field(box, sets) {
   const h = chartAt(box[0], box[1], box[2], box[3], {
      type: 'scatter',
      data: {
         datasets: sets.map(([pts, color, radius]) => ({
            data: pts.map(([x, y]) => ({ x, y })),
            backgroundColor: color, borderWidth: 0, pointRadius: radius
         }))
      },
      options: {
         layout: { padding: 0 },
         scales: {
            x: { display: false, min: 0, max: 100 },
            y: { display: false, min: 0, max: 100, reverse: true }
         }
      }
   });
   h.canvas.style.background = '#060304';
   h.canvas.style.outline = '1px solid #c8c8c8';
   h.canvas.style.outlineOffset = '-1px';
}

const fieldRows = [[53, 179], [248, 180], [444, 179], [640, 179]];
const aCols = [[119, 224], [351, 224], [587, 224]];
const bCols = [[960, 223], [1191, 224], [1427, 224]];
const aDapi = [aDapi1, aDapi2, aDapi3, aDapi4], aEdu = [aEdu1, aEdu2, aEdu3, aEdu4];
const bDapi = [bDapi1, bDapi2, bDapi3, bDapi4], bEdu = [bEdu1, bEdu2, bEdu3, bEdu4];
const aDapiR = [3.2, 5, 2.7, 3], aEduR = [2.8, 2.8, 2.3, 2.5];
const bDapiR = [5.5, 5.5, 6.5, 4.5], bEduR = [2.6, 2.8, 2.8, 3];

function fieldColumn(cols, dapi, edu, dR, eR) {
   fieldRows.forEach((row, r) => {
      field([cols[0][0], row[0], cols[0][1], row[1]], [[dapi[r], dapiBlue, dR[r]]]);
      field([cols[1][0], row[0], cols[1][1], row[1]], [[edu[r], eduGreen, eR[r]]]);
      field([cols[2][0], row[0], cols[2][1], row[1]], [[edu[r], mergeCyan, eR[r]], [dapi[r], dapiBlue, dR[r]]]);
   });
}
fieldColumn(aCols, aDapi, aEdu, aDapiR, aEduR);
fieldColumn(bCols, bDapi, bEdu, bDapiR, bEduR);

const stains = ['DAPI', 'EdU', 'Merge'];
[226, 462, 693].forEach((x, i) => put(stains[i], x, 25, 33));
[1069, 1305, 1537].forEach((x, i) => put(stains[i], x, 25, 33));
[146, 337, 532, 726].forEach((y, i) => put(treatments[i], 93, y, 25, false, 'r'));
[144, 334, 529, 723].forEach((y, i) => put(treatments[i], 935, y, 25, false, 'r'));
put('AsPC-1', 25, 441, 32, false, 'r');
put('PANC-1', 867, 433, 32, false, 'r');
rule(68, 55, 3, 763);
rule(909, 53, 3, 763);

// panel letters
put('A', 21, 24, 22, true);
put('B', 876, 24, 22, true);
put('C', 18, 867, 25, true);
put('D', 670, 863, 26, true);
put('E', 18, 1271, 26, true);
put('F', 1073, 1502, 32, true);
</script>
</body>
</html>
